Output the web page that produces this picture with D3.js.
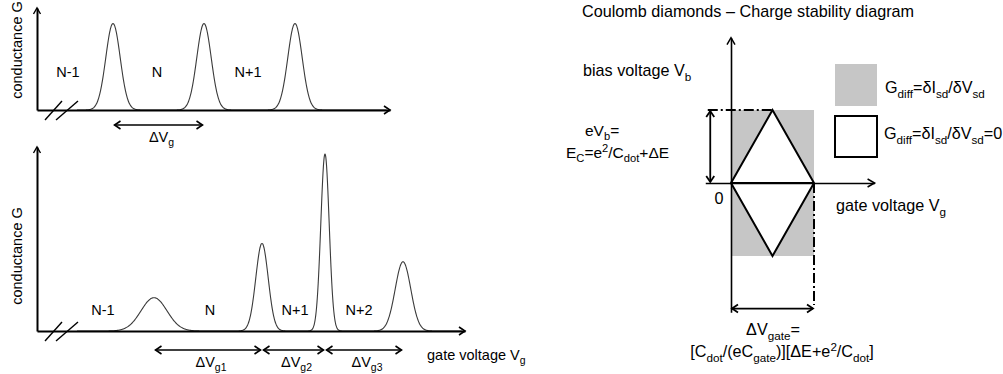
<!DOCTYPE html>
<html>
<head>
<meta charset="utf-8">
<script src="https://cdn.jsdelivr.net/npm/d3@7/dist/d3.min.js"></script>
<style>
  html, body { margin: 0; padding: 0; background: #fff; }
  svg { display: block; }
  text { font-family: "Liberation Sans", Arial, sans-serif; font-size: 14.5px; fill: #000; }
</style>
</head>
<body>
<svg id="chart" width="1003" height="374"></svg>
<script>
// ---------- Data ----------
// Upper panel: equally spaced Coulomb peaks (gate voltage units, relative heights, widths)
const topPeakCenters = [7.6, 16.7, 25.8];
const topPeakHeights = [1.0, 1.0, 1.0];
const topPeakWidths  = [0.72, 0.72, 0.72];
const topStateLabels = ["N-1", "N", "N+1"];
const topStatePos    = [3.1, 12.0, 21.1];

// Lower panel: irregular peaks
const botPeakCenters = [11.7, 22.5, 28.8, 36.6];
const botPeakHeights = [0.38, 1.0, 2.02, 0.79];
const botPeakWidths  = [1.3, 0.62, 0.42, 0.78];
const botStateLabels = ["N-1", "N", "N+1", "N+2"];
const botStatePos    = [6.6, 17.3, 25.8, 32.2];
const botSpacingSubs = ["g1", "g2", "g3"];

// Charge stability diagram (gate in units of ΔV_gate, bias in units of E_C/e)
const diamondGate = [0, 0.5, 1, 0.5];
const diamondBias = [0, 1, 0, -1];
const shadeGate   = [0, 1];
const shadeBias   = [-1, 1];

const svg = d3.select("#chart");

// ---------- helpers ----------
function rich(g, x, y, parts, anchor, base) {
  base = base || 14.5;
  const t = g.append("text").attr("x", x).attr("y", y)
    .attr("text-anchor", anchor || "start");
  let shift = 0;
  parts.forEach(p => {
    const [s, kind] = Array.isArray(p) ? p : [p, null];
    let target = 0, size = base;
    if (kind === "sub") { target = base * 0.29; size = base * 0.72; }
    if (kind === "sup") { target = -base * 0.36; size = base * 0.72; }
    t.append("tspan").attr("dy", target - shift).style("font-size", size + "px").text(s);
    shift = target;
  });
  return t;
}

function chevron(g, x, y, dx, dy, len, half, sw) {
  // open arrow head pointing in direction (dx,dy) with tip at (x,y)
  const n = Math.hypot(dx, dy); dx /= n; dy /= n;
  const px = -dy, py = dx;
  const bx = x - dx * len, by = y - dy * len;
  g.append("path")
    .attr("d", `M${bx + px * half},${by + py * half}L${x},${y}L${bx - px * half},${by - py * half}`)
    .attr("fill", "none").attr("stroke", "#000").attr("stroke-width", sw || 1.6)
    .attr("stroke-linejoin", "miter");
}

function doubleArrow(g, x1, y1, x2, y2, sw) {
  g.append("line").attr("x1", x1).attr("y1", y1).attr("x2", x2).attr("y2", y2)
    .attr("stroke", "#000").attr("stroke-width", sw || 1.6);
  chevron(g, x2, y2, x2 - x1, y2 - y1, 6, 4, sw);
  chevron(g, x1, y1, x1 - x2, y1 - y2, 6, 4, sw);
}

function gaussSum(centers, heights, widths) {
  return v => d3.sum(centers, (c, i) => heights[i] * Math.exp(-0.5 * ((v - c) / widths[i]) ** 2));
}

function drawPanel(opts) {
  const g = svg.append("g");
  const x = d3.scaleLinear().domain(opts.xDomain).range(opts.xRange);
  const y = d3.scaleLinear().domain(opts.yDomain).range(opts.yRange);
  const f = gaussSum(opts.centers, opts.heights, opts.widths);
  const samples = d3.range(opts.curveStart, opts.xDomain[1] - 0.3, 0.04);

  g.append("path")
    .datum(samples)
    .attr("d", d3.line().x(v => x(v)).y(v => y(f(v))).curve(d3.curveMonotoneX))
    .attr("fill", "none").attr("stroke", "#3a3a3a").attr("stroke-width", 1.1);

  // axes (no ticks)
  const xAxis = g.append("g").attr("transform", `translate(0,${y(0)})`)
    .call(d3.axisBottom(x).tickValues([]).tickSizeOuter(0));
  const yAxis = g.append("g").attr("transform", `translate(${x(0)},0)`)
    .call(d3.axisLeft(y).tickValues([]).tickSizeOuter(0));
  [xAxis, yAxis].forEach(a => a.select(".domain").attr("stroke", "#000").attr("stroke-width", 2));
  if (opts.xArrow) chevron(g, x.range()[1], y(0), 1, 0, 6, 4, 1.6);
  chevron(g, x(0), y.range()[1], 0, -1, 6, 3.5, 1.4);

  // axis break marks
  const y0 = y(0);
  [[45, 62], [56, 78]].forEach(([a, b]) => {
    g.append("line").attr("x1", a).attr("y1", y0 + 10).attr("x2", b).attr("y2", y0 - 9)
      .attr("stroke", "#000").attr("stroke-width", 1.4);
  });

  // y label
  g.append("text")
    .attr("transform", `translate(22,${opts.yLabelY}) rotate(-90)`)
    .attr("text-anchor", "middle").text("conductance G");

  // charge state labels
  opts.stateLabels.forEach((s, i) => {
    g.append("text").attr("x", x(opts.statePos[i])).attr("y", opts.stateY)
      .attr("text-anchor", "middle").text(s);
  });

  // peak spacings
  for (let i = 0; i < opts.spacingSubs.length; i++) {
    const a = x(opts.centers[i]) + 1.5, b = x(opts.centers[i + 1]) - 1.5;
    doubleArrow(g, a, opts.arrowY, b, opts.arrowY, 1.6);
    rich(g, (a + b) / 2 + 3, opts.arrowY + 17, ["ΔV", [opts.spacingSubs[i], "sub"]], "middle");
  }
  return { g, x, y };
}

// ---------- upper panel ----------
drawPanel({
  xDomain: [0, 35.3], xRange: [37, 390],
  yDomain: [0, 1.18], yRange: [110, 8],
  centers: topPeakCenters, heights: topPeakHeights, widths: topPeakWidths,
  curveStart: 4.0, xArrow: true,
  yLabelY: 50,
  stateLabels: topStateLabels, statePos: topStatePos, stateY: 77,
  spacingSubs: ["g"], arrowY: 125
});

// ---------- lower panel ----------
const bot = drawPanel({
  xDomain: [0, 42.8], xRange: [37, 465],
  yDomain: [0, 2.1], yRange: [331, 147],
  centers: botPeakCenters, heights: botPeakHeights, widths: botPeakWidths,
  curveStart: 4.0, xArrow: true,
  yLabelY: 256,
  stateLabels: botStateLabels, statePos: botStatePos, stateY: 315,
  spacingSubs: botSpacingSubs, arrowY: 350
});
rich(bot.g, 427, 360, ["gate voltage V", ["g", "sub"]]);

// ---------- charge stability diagram ----------
const R = svg.append("g");
const xR = d3.scaleLinear().domain([0, 1]).range([731, 814]);
const yR = d3.scaleLinear().domain([-1, 1]).range([256, 110]);
const FS = 16.2;

rich(R, 582, 17, ["Coulomb diamonds – Charge stability diagram"], "start", FS);

// shaded conducting region
R.append("rect")
  .attr("x", xR(shadeGate[0])).attr("y", yR(shadeBias[1]))
  .attr("width", xR(shadeGate[1]) - xR(shadeGate[0]))
  .attr("height", yR(shadeBias[0]) - yR(shadeBias[1]))
  .attr("fill", "#c6c6c6");

// diamonds (blocked region)
const pts = diamondGate.map((gv, i) => [xR(gv), yR(diamondBias[i])]);
R.append("path")
  .attr("d", d3.line()(pts) + "Z")
  .attr("fill", "#fff").attr("stroke", "#000").attr("stroke-width", 2).attr("stroke-linejoin", "miter");
R.append("line").attr("x1", xR(0)).attr("x2", xR(1)).attr("y1", yR(0)).attr("y2", yR(0))
  .attr("stroke", "#000").attr("stroke-width", 2);

// axes
const hAxis = R.append("g").attr("transform", `translate(0,${yR(0)})`)
  .call(d3.axisBottom(d3.scaleLinear().domain([-0.31, 1.73]).range([xR(-0.31), xR(1.73)]))
    .tickValues([]).tickSizeOuter(0));
const vAxis = R.append("g").attr("transform", `translate(${xR(0)},0)`)
  .call(d3.axisLeft(d3.scaleLinear().domain([-1.77, 1.99]).range([yR(-1.77), yR(1.99)]))
    .tickValues([]).tickSizeOuter(0));
[hAxis, vAxis].forEach(a => a.select(".domain").attr("stroke", "#000").attr("stroke-width", 1.6));
chevron(R, xR(1.73), yR(0), 1, 0, 7, 4, 1.5);
chevron(R, xR(0), yR(1.99), 0, -1, 7, 4, 1.5);

// dash-dot guides
R.append("line").attr("x1", xR(-0.28)).attr("x2", xR(0.5)).attr("y1", yR(1)).attr("y2", yR(1))
  .attr("stroke", "#000").attr("stroke-width", 2).attr("stroke-dasharray", "10,3,2,3");
R.append("line").attr("x1", xR(1)).attr("x2", xR(1)).attr("y1", yR(0)).attr("y2", yR(-1.67))
  .attr("stroke", "#000").attr("stroke-width", 2).attr("stroke-dasharray", "10,3,2,3");

// charging energy and period arrows
doubleArrow(R, xR(-0.25), yR(1) + 1, xR(-0.25), yR(0) - 1, 1.8);
doubleArrow(R, xR(0) + 1, yR(-1.72), xR(1) - 1, yR(-1.72), 1.8);

// labels
rich(R, 583, 76, ["bias voltage V", ["b", "sub"]], "start", FS);
rich(R, 585, 136, ["eV", ["b", "sub"], "="], "start", 15.5);
rich(R, 566, 158, ["E", ["C", "sub"], "=e", ["2", "sup"], "/C", ["dot", "sub"], "+ΔE"], "start", 15.5);
rich(R, 719, 204, ["0"], "middle", FS);
rich(R, 836, 211, ["gate voltage V", ["g", "sub"]], "start", FS);
rich(R, 773, 335, ["ΔV", ["gate", "sub"], "="], "middle", FS);
rich(R, 782, 357, ["[C", ["dot", "sub"], "/(eC", ["gate", "sub"], ")][ΔE+e", ["2", "sup"], "/C", ["dot", "sub"], "]"], "middle", FS);

// legend
R.append("rect").attr("x", 835).attr("y", 64).attr("width", 42).attr("height", 42).attr("fill", "#c6c6c6");
R.append("rect").attr("x", 835).attr("y", 116).attr("width", 42).attr("height", 41)
  .attr("fill", "#fff").attr("stroke", "#000").attr("stroke-width", 2);
rich(R, 885, 93, ["G", ["diff", "sub"], "=δI", ["sd", "sub"], "/δV", ["sd", "sub"]], "start", FS);
rich(R, 884, 139, ["G", ["diff", "sub"], "=δI", ["sd", "sub"], "/δV", ["sd", "sub"], "=0"], "start", FS);
</script>
</body>
</html>
